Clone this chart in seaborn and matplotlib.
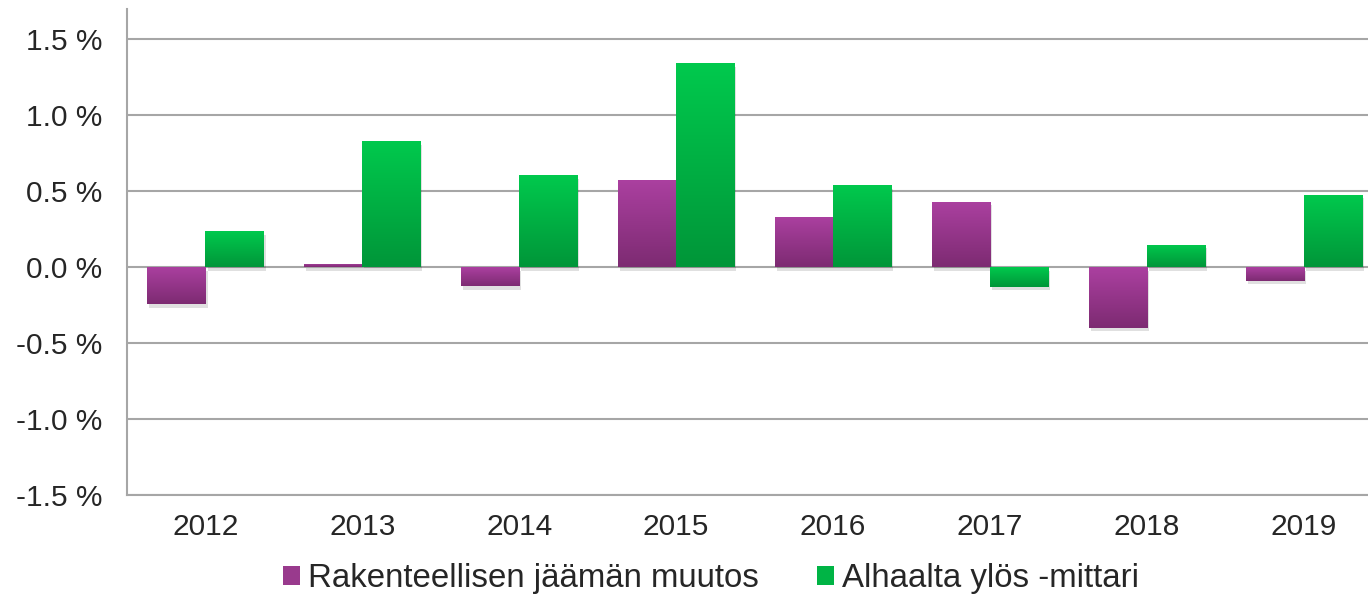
import numpy as np
import pandas as pd
import matplotlib
matplotlib.use("Agg")
import matplotlib.pyplot as plt
import matplotlib.patheffects as pe
from matplotlib.patches import Patch
from matplotlib.colors import to_rgb
import seaborn as sns

# ---- data ----
years = ["2012", "2013", "2014", "2015", "2016", "2017", "2018", "2019"]
structural_change = [-0.245, 0.02, -0.125, 0.575, 0.33, 0.43, -0.40, -0.088]
bottom_up = [0.237, 0.83, 0.605, 1.342, 0.54, -0.13, 0.147, 0.476]
series_names = ["Rakenteellisen jäämän muutos", "Alhaalta ylös -mittari"]
ytick_values = [-1.5, -1.0, -0.5, 0.0, 0.5, 1.0, 1.5]
ytick_labels = ["-1.5 %", "-1.0 %", "-0.5 %", "0.0 %", "0.5 %", "1.0 %", "1.5 %"]

df = pd.DataFrame({
    "year": years * 2,
    "value": structural_change + bottom_up,
    "series": [series_names[0]] * len(years) + [series_names[1]] * len(years),
})

# ---- style ----
sns.set_theme(style="white")
plt.rcParams["font.family"] = ["Liberation Sans", "DejaVu Sans"]
text_color = "#262626"
grid_color = "#a6a6a6"

top_colors = {series_names[0]: "#ab40a0", series_names[1]: "#00c94d"}
bot_colors = {series_names[0]: "#7d2b72", series_names[1]: "#009639"}
mid_colors = {series_names[0]: "#993a8d", series_names[1]: "#00b445"}

fig = plt.figure(figsize=(13.68, 5.97), dpi=100)
ax = fig.add_axes([127 / 1368, 102 / 597, 1255 / 1368, 486 / 597])

sns.barplot(data=df, x="year", y="value", hue="series", order=years,
            hue_order=series_names, palette=mid_colors, width=0.74,
            gap=0, saturation=1, legend=False, ax=ax, linewidth=0)

ylim = (-1.5, 1.70)
xlim = ax.get_xlim()

# gradient fill per bar
for container, name in zip(ax.containers, series_names):
    c_top = np.array(to_rgb(top_colors[name]))
    c_bot = np.array(to_rgb(bot_colors[name]))
    grad = np.linspace(0, 1, 64)[:, None, None]
    img = c_top[None, None, :] * (1 - grad) + c_bot[None, None, :] * grad
    for bar in container:
        x0, y0 = bar.get_x(), bar.get_y()
        w, h = bar.get_width(), bar.get_height()
        ymin, ymax = min(y0, y0 + h), max(y0, y0 + h)
        bar.set_path_effects([
            pe.SimplePatchShadow(offset=(1.5, -2.5), shadow_rgbFace="#000000", alpha=0.12),
            pe.Normal(),
        ])
        im = ax.imshow(img, extent=[x0, x0 + w, ymin, ymax], origin="upper",
                       aspect="auto", zorder=bar.get_zorder() + 0.1,
                       interpolation="bilinear")
        im.set_clip_path(bar)

ax.set_xlim(xlim)
ax.set_ylim(ylim)

ax.set_yticks(ytick_values)
ax.set_yticklabels(ytick_labels)
ax.yaxis.grid(True, color=grid_color, linewidth=1.5)
ax.xaxis.grid(False)
ax.set_axisbelow(True)
for s in ["top", "right"]:
    ax.spines[s].set_visible(False)
for s in ["left", "bottom"]:
    ax.spines[s].set_color(grid_color)
    ax.spines[s].set_linewidth(1.5)

ax.tick_params(axis="y", length=0, pad=18, labelsize=21.5, labelcolor=text_color)
ax.tick_params(axis="x", length=0, pad=13, labelsize=21.5, labelcolor=text_color)
ax.set_xlabel("")
ax.set_ylabel("")

handles = [Patch(facecolor=mid_colors[n], edgecolor="none", label=n) for n in series_names]
fig.legend(handles=handles, loc="center left", bbox_to_anchor=(283 / 1368, 1 - 578.5 / 597),
           ncol=2, frameon=False, fontsize=23.8, handlelength=0.52, handleheight=0.52,
           handletextpad=0.24, columnspacing=1.75, borderpad=0, borderaxespad=0,
           labelcolor=text_color)

fig.savefig("out.png", dpi=100)
